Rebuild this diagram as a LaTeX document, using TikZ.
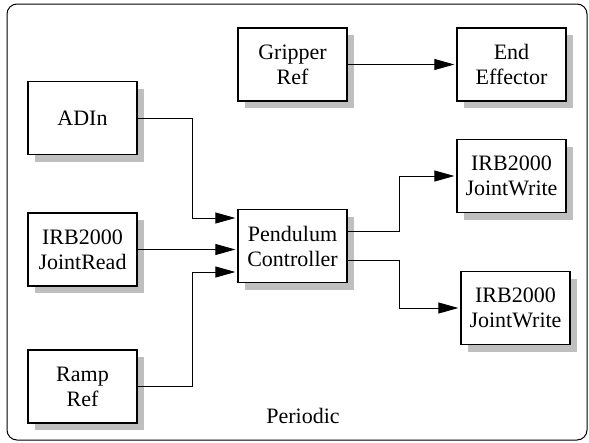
\documentclass[tikz,border=0pt]{standalone}
\usepackage{fontspec}
\setmainfont{LiberationSerif-Regular.ttf}
\newfontfamily\blockfont{LiberationSerif-Regular.ttf}
\usepackage{tikz}
\usetikzlibrary{positioning, arrows.meta, calc, shadows}

\begin{document}
\begin{tikzpicture}[x=1pt, y=-1pt,
                block/.style={draw=black, line width=1.3pt, rectangle, fill=white, minimum width=109pt, minimum height=73pt, align=center, inner sep=2pt, font=\blockfont\fontsize{22}{25}\selectfont,
                    drop shadow={shadow xshift=7pt, shadow yshift=-7pt, fill=gray!50, opacity=1}},
                edge/.style={line width=0.9pt, -{Triangle[length=20pt, width=11pt]}, shorten >=2pt},
                framelabel/.style={font=\blockfont\fontsize{22}{25}\selectfont}
            ]

            \useasboundingbox (0,0) rectangle (589,442);
            \draw[line width=1pt, rounded corners=10pt] (7,4) rectangle (587,440);

            % Bloecke
            \node[block] (adin) at (82.5,118) {ADIn};
            \node[block] (jread) at (82.5,249.5) {IRB2000\\JointRead};
            \node[block] (ramp) at (82.5,386.5) {Ramp\\Ref};
            \node[block] (grip) at (292.5,64.5) {Gripper\\Ref};
            \node[block] (endeff) at (511.5,64.5) {End\\Effector};
            \node[block] (pend) at (292.5,246) {Pendulum\\Controller};
            \node[block] (jwriteA) at (511.5,176) {IRB2000\\JointWrite};
            \node[block] (jwriteB) at (515.5,308) {IRB2000\\JointWrite};

            \node[framelabel] (periodic) at (303,416) {Periodic};

            % Verbindungen
            \draw[edge] (grip.east) -- (endeff.west);
            \draw[edge] (adin.east) -| (192,218) -- ([yshift=28pt]pend.west);
            \draw[edge] (jread.east) -- (jread.east -| pend.west);
            \draw[edge] (ramp.east) -| (192,272) -- ([yshift=-26pt]pend.west);
            \draw[edge] ([yshift=15pt]pend.east) -| (399,176) -- (jwriteA.west);
            \draw[edge] ([yshift=-14pt]pend.east) -| (399,308) -- (jwriteB.west);

        \end{tikzpicture}
\end{document}
